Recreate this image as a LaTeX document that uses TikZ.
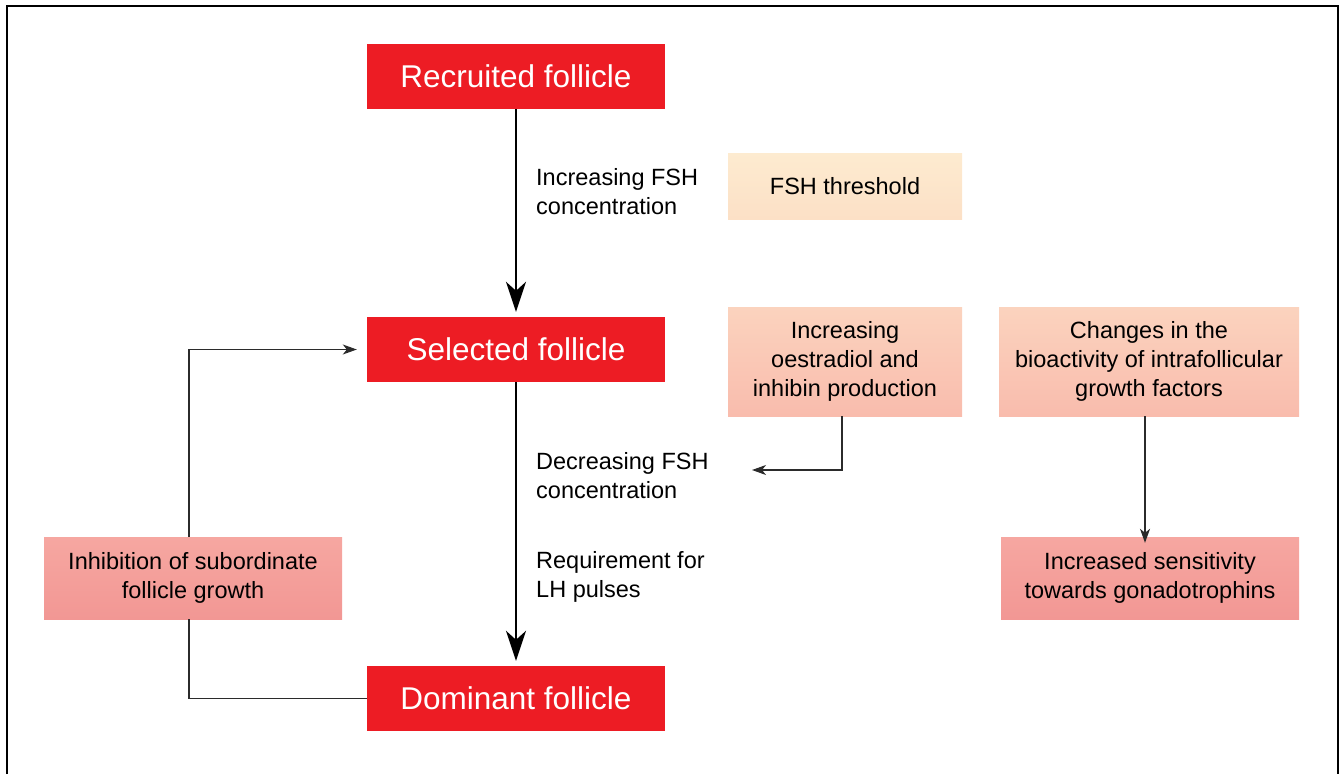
\documentclass[tikz,border=0pt]{standalone}
\usepackage{fontspec}
\setmainfont{Liberation Sans}
\usetikzlibrary{arrows.meta,positioning}

\definecolor{follred}{HTML}{ED1C24}
\definecolor{peachtop}{HTML}{FDEBD0}
\definecolor{peachbot}{HTML}{FCE0C6}
\definecolor{salmtop}{HTML}{FBD3BE}
\definecolor{salmbot}{HTML}{F9BCAD}
\definecolor{rosetop}{HTML}{F6A7A1}
\definecolor{rosebot}{HTML}{F29794}
\definecolor{linegray}{HTML}{2B2B2B}

\begin{document}
\begin{tikzpicture}[x=1pt,y=-1pt,
    redbox/.style={fill=follred,text=white,minimum width=298pt,minimum height=65pt,
        inner sep=0pt,font=\fontsize{31.5}{36}\selectfont},
    softbox/.style={minimum width=234pt,inner sep=0pt,align=center,
        font=\fontsize{23.5}{29}\selectfont},
    steplabel/.style={anchor=west,align=left,inner sep=0pt,
        font=\fontsize{23.5}{29}\selectfont},
    mainarrow/.style={line width=2.6pt,-{Stealth[length=30pt,width=20pt,inset=9pt]},shorten >=5pt},
    thinarrow/.style={line width=1.2pt,draw=linegray,-{Stealth[length=14pt,width=10pt,inset=4pt]}}]
    \useasboundingbox (0,0) rectangle (1343,774);

    % Open frame
    \draw[line width=1.5pt] (7,774) -- (7,6) -- (1338,6) -- (1338,774);

    % Follicle stages
    \node[redbox] (rec) at (516,76.5) {Recruited follicle};
    \node[redbox] (sel) at (516,349.5) {Selected follicle};
    \node[redbox] (dom) at (516,698.5) {Dominant follicle};

    % Side boxes
    \node[softbox,minimum height=66pt,top color=peachtop,bottom color=peachbot] (thr) at (845,186) {FSH threshold};
    \node[softbox,minimum height=109pt,top color=salmtop,bottom color=salmbot] (oest) at (845,361.5)
        {Increasing\\oestradiol and\\inhibin production};
    \node[softbox,minimum width=300pt,minimum height=109pt,top color=salmtop,bottom color=salmbot] (chg) at (1149,361.5)
        {Changes in the\\bioactivity of intrafollicular\\growth factors};
    \node[softbox,minimum width=298pt,minimum height=82pt,top color=rosetop,bottom color=rosebot] (sens) at (1150,578)
        {Increased sensitivity\\towards gonadotrophins};
    \node[softbox,minimum width=298pt,minimum height=82pt,top color=rosetop,bottom color=rosebot] (inhib) at (193,578)
        {Inhibition of subordinate\\follicle growth};

    % Labels along the main axis
    \node[steplabel] (incfsh) at (536,191.5) {Increasing FSH\\concentration};
    \node[steplabel] (decfsh) at (536,476) {Decreasing FSH\\concentration};
    \node[steplabel] (lhreq) at (536,576.5) {Requirement for\\LH pulses};

    % Main progression
    \draw[mainarrow] (rec) -- (sel);
    \draw[mainarrow] (sel) -- (dom);

    % Feedback and side effects
    \coordinate (fshdrop) at (752,470);
    \draw[thinarrow] ([xshift=-3pt]oest.south) |- (fshdrop);
    \draw[thinarrow] ([xshift=-4pt]chg.south) -- ([xshift=-5pt,yshift=-6pt]sens.north);
    \draw[thinarrow,shorten >=10pt] ([xshift=-4pt]inhib.north) |- (sel.west);
    \draw[line width=1.2pt,draw=linegray] ([xshift=-4pt]inhib.south) |- (dom.west);
\end{tikzpicture}
\end{document}
